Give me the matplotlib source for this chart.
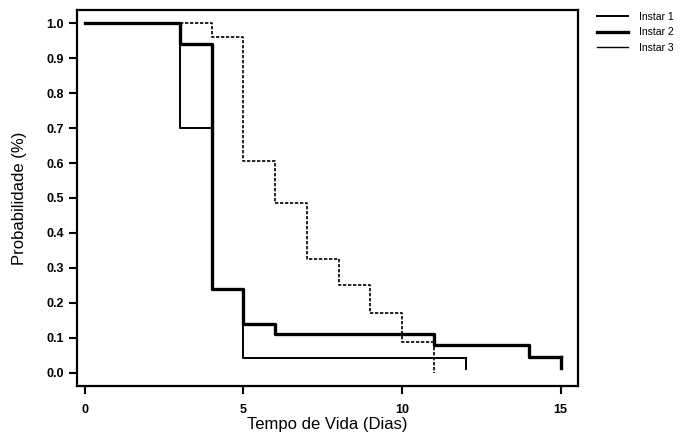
import matplotlib
matplotlib.use("Agg")
import matplotlib.pyplot as plt
from matplotlib.lines import Line2D

plt.rcParams['font.family'] = ['Liberation Sans', 'DejaVu Sans']

# survival curves (step after each day)
days1 = [0, 3, 4, 5, 12]
surv1 = [1.0, 0.70, 0.24, 0.043, 0.043]
end1 = [0.043, 0.01]

days2 = [0, 3, 4, 5, 6, 11, 14, 15]
surv2 = [1.0, 0.94, 0.24, 0.14, 0.11, 0.08, 0.046, 0.046]
end2 = [0.046, 0.015]

days3 = [0, 4, 5, 6, 7, 8, 9, 10, 11]
surv3 = [1.0, 0.96, 0.605, 0.485, 0.325, 0.25, 0.17, 0.087, 0.087]
end3 = [0.087, 0.0]

labels = ["Instar 1", "Instar 2", "Instar 3"]
xticks = [0, 5, 10, 15]
yticks = [0.0, 0.1, 0.2, 0.3, 0.4, 0.5, 0.6, 0.7, 0.8, 0.9, 1.0]

fig = plt.figure(figsize=(6.81, 4.40), dpi=100)
ax = fig.add_axes([0.113, 0.123, 0.736, 0.854])

ax.step(days1, surv1, where='post', color='black', lw=1.4)
ax.plot([days1[-1], days1[-1]], end1, color='black', lw=1.4)

ax.step(days2, surv2, where='post', color='black', lw=2.4)
ax.plot([days2[-1], days2[-1]], end2, color='black', lw=2.4)

ax.step(days3, surv3, where='post', color='black', lw=1.2, ls=(0, (2, 1)))
ax.plot([days3[-1], days3[-1]], end3, color='black', lw=1.2, ls=(0, (2, 1)))

ax.set_xlim(-0.25, 15.55)
ax.set_ylim(-0.037, 1.037)
ax.set_xticks(xticks)
ax.set_yticks(yticks)
ax.set_yticklabels(["%.1f" % v for v in yticks])
ax.tick_params(axis='both', direction='out', length=6, width=1.5,
               labelsize=9)
ax.tick_params(axis='x', pad=7)
for lab in ax.get_xticklabels() + ax.get_yticklabels():
    lab.set_fontweight('bold')
for sp in ax.spines.values():
    sp.set_linewidth(1.6)

ax.set_xlabel("Tempo de Vida (Dias)", fontsize=12, labelpad=1)
ax.set_ylabel("Probabilidade (%)", fontsize=12, labelpad=14)

handles = [Line2D([], [], color='black', lw=1.4),
           Line2D([], [], color='black', lw=2.4),
           Line2D([], [], color='black', lw=1.0)]
fig.legend(handles, labels, loc='upper left', bbox_to_anchor=(0.863, 0.995),
           frameon=False, fontsize=7.5, handlelength=3.0, handletextpad=1.0,
           labelspacing=0.55)

fig.savefig("out.png", dpi=100)
